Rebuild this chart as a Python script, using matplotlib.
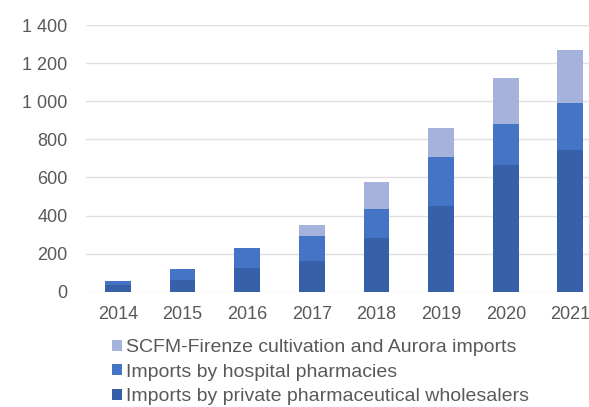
import matplotlib
matplotlib.use("Agg")
import matplotlib.pyplot as plt
from matplotlib.ticker import FuncFormatter
import numpy as np

years = ["2014", "2015", "2016", "2017", "2018", "2019", "2020", "2021"]
wholesalers = [34, 63, 126, 163, 284, 450, 665, 742]
hospital = [24, 56, 102, 128, 149, 255, 215, 250]
scfm = [0, 0, 0, 58, 143, 156, 242, 278]

labels = ["SCFM-Firenze cultivation and Aurora imports",
          "Imports by hospital pharmacies",
          "Imports by private pharmaceutical wholesalers"]
colors = ["#A5B3DC", "#4574C6", "#3660A8"]

plt.rcParams["font.family"] = ["Liberation Sans", "DejaVu Sans"]
text_col = "#595959"

fig = plt.figure(figsize=(5.89, 4.07), dpi=100)
ax = fig.add_axes([0.1453, 0.2833, 0.878, 0.655])

x = np.arange(len(years))
w = 0.4
b1 = ax.bar(x, wholesalers, w, color=colors[2], zorder=3)
b2 = ax.bar(x, hospital, w, bottom=wholesalers, color=colors[1], zorder=3)
bottom3 = np.array(wholesalers) + np.array(hospital)
b3 = ax.bar(x, scfm, w, bottom=bottom3, color=colors[0], zorder=3)

ax.set_xlim(-0.5, len(years) - 0.5)
ax.set_ylim(0, 1400)
ax.set_yticks(range(0, 1401, 200))
ax.yaxis.set_major_formatter(FuncFormatter(lambda v, p: f"{int(v):,}".replace(",", " ")))
ax.set_xticks(x)
ax.set_xticklabels(years)
ax.tick_params(axis="both", length=0, labelsize=13, colors=text_col)
ax.tick_params(axis="y", pad=13)
ax.tick_params(axis="x", pad=10)
ax.grid(axis="y", color="#E0E0E0", linewidth=1, zorder=0)
for s in ax.spines.values():
    s.set_visible(False)

# legend kept fully inside the figure (reference crops the last line)
leg = fig.legend([b3, b2, b1], labels, loc="upper left",
                 bbox_to_anchor=(0.19, 0.166), frameon=False,
                 fontsize=14, labelcolor=text_col,
                 handlelength=0.5, handleheight=0.5, handletextpad=0.2,
                 labelspacing=0.38, borderaxespad=0, borderpad=0)

fig.savefig("out.png", dpi=100)
